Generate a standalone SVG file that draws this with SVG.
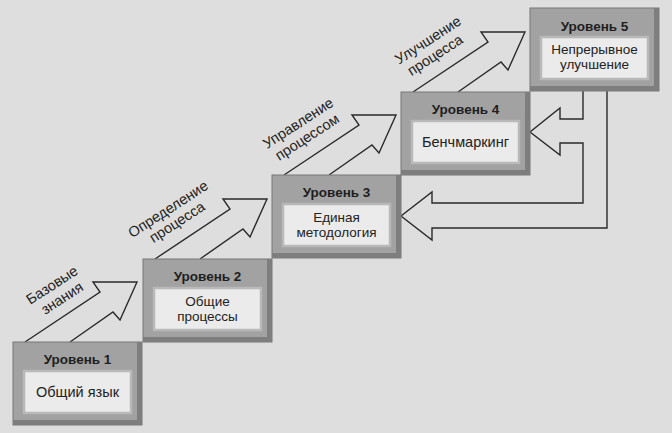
<svg xmlns="http://www.w3.org/2000/svg" xmlns:xlink="http://www.w3.org/1999/xlink" width="672" height="433" viewBox="0 0 672 433">
<style>
.bg{fill:#dedede}
.outer{fill:#a2a2a2;stroke:#767676;stroke-width:1}
.shade{fill:#7e7e7e}
.inner{fill:#ebebeb;stroke:#b9b9b9;stroke-width:2.5}
.title{font-family:"Liberation Sans",Arial,sans-serif;font-weight:bold;font-size:13.5px;fill:#1e1e1e;text-anchor:middle}
.body{font-family:"Liberation Sans",Arial,sans-serif;font-size:14.5px;fill:#222;text-anchor:middle}
.body2{font-family:"Liberation Sans",Arial,sans-serif;font-size:13.5px;fill:#222;text-anchor:middle}
.lbl{font-family:"Liberation Sans",Arial,sans-serif;font-size:14.5px;fill:#222;text-anchor:middle}
.arr{fill:none;stroke:#2a2a2a;stroke-width:1.4;stroke-linejoin:miter}
</style>
<defs>
<path id="up" d="M25,342 L100,292 L93,282 L137,282 L120,320 L113,312 L70,342"/>
</defs>
<rect class="bg" x="0" y="0" width="672" height="433"/>
<g id="connectors">
<use xlink:href="#up" href="#up" class="arr"/>
<use xlink:href="#up" href="#up" class="arr" transform="translate(130,-83)"/>
<use xlink:href="#up" href="#up" class="arr" transform="translate(259,-167)"/>
<use xlink:href="#up" href="#up" class="arr" transform="translate(388,-250)"/>
<path class="arr" d="M607,91 V228 H432 V240 L401,216 L432,192 V203 H583 V143 H560 V155 L530,132 L560,108 V119 H583 V91"/>
<g transform="translate(52,285) rotate(-33)"><text class="lbl" x="0" y="5">Базовые</text></g>
<g transform="translate(62,298) rotate(-33)"><text class="lbl" x="0" y="5">знания</text></g>
<g transform="translate(168,209) rotate(-33)"><text class="lbl" x="0" y="5">Определение</text></g>
<g transform="translate(177,222) rotate(-33)"><text class="lbl" x="0" y="5">процесса</text></g>
<g transform="translate(298,123) rotate(-33)"><text class="lbl" x="0" y="5">Управление</text></g>
<g transform="translate(307,137) rotate(-33)"><text class="lbl" x="0" y="5">процессом</text></g>
<g transform="translate(428,40) rotate(-33)"><text class="lbl" x="0" y="5">Улучшение</text></g>
<g transform="translate(435,55) rotate(-33)"><text class="lbl" x="0" y="5">процесса</text></g>
</g>
<g id="level1">
<rect class="outer" x="13" y="342" width="129" height="83"/>
<rect class="shade" x="137" y="342" width="5" height="83"/>
<rect class="shade" x="13" y="420" width="129" height="5"/>
<rect class="inner" x="24" y="371" width="107" height="42"/>
<text class="title" x="77.5" y="364">Уровень 1</text>
<text class="body" x="77.5" y="397">Общий язык</text>
</g>
<g id="level2">
<rect class="outer" x="143" y="259" width="129" height="83"/>
<rect class="shade" x="267" y="259" width="5" height="83"/>
<rect class="shade" x="143" y="337" width="129" height="5"/>
<rect class="inner" x="154" y="288" width="107" height="42"/>
<text class="title" x="207.5" y="281">Уровень 2</text>
<text class="body2" x="207.5" y="305.5">Общие</text>
<text class="body2" x="207.5" y="321">процессы</text>
</g>
<g id="level3">
<rect class="outer" x="272" y="175" width="129" height="83"/>
<rect class="shade" x="396" y="175" width="5" height="83"/>
<rect class="shade" x="272" y="253" width="129" height="5"/>
<rect class="inner" x="283" y="204" width="107" height="42"/>
<text class="title" x="336.5" y="197">Уровень 3</text>
<text class="body2" x="336.5" y="221.5">Единая</text>
<text class="body2" x="336.5" y="237">методология</text>
</g>
<g id="level4">
<rect class="outer" x="401" y="92" width="129" height="83"/>
<rect class="shade" x="525" y="92" width="5" height="83"/>
<rect class="shade" x="401" y="170" width="129" height="5"/>
<rect class="inner" x="412" y="121" width="107" height="42"/>
<text class="title" x="465.5" y="114">Уровень 4</text>
<text class="body" x="465.5" y="147">Бенчмаркинг</text>
</g>
<g id="level5">
<rect class="outer" x="530" y="8" width="129" height="83"/>
<rect class="shade" x="654" y="8" width="5" height="83"/>
<rect class="shade" x="530" y="86" width="129" height="5"/>
<rect class="inner" x="541" y="37" width="107" height="42"/>
<text class="title" x="594.5" y="31">Уровень 5</text>
<text class="body2" x="594.5" y="53.5">Непрерывное</text>
<text class="body2" x="594.5" y="69">улучшение</text>
</g>
</svg>
